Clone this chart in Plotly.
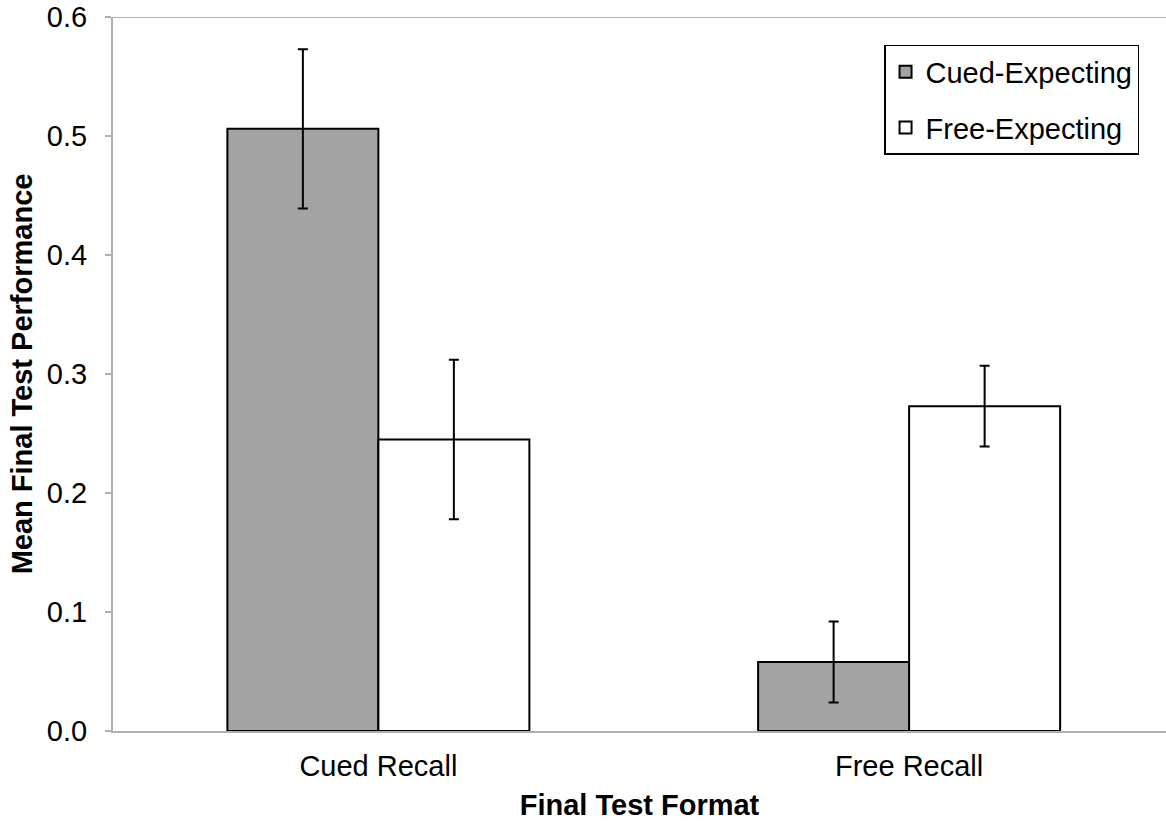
import plotly.graph_objects as go

categories = ["Cued Recall", "Free Recall"]
cued_expecting = [0.506, 0.058]
cued_expecting_err = [0.067, 0.034]
free_expecting = [0.245, 0.273]
free_expecting_err = [0.067, 0.034]
y_ticks = [0.0, 0.1, 0.2, 0.3, 0.4, 0.5, 0.6]
y_tick_labels = ["0.0", "0.1", "0.2", "0.3", "0.4", "0.5", "0.6"]

font_family = "Liberation Sans, Arial, Helvetica, sans-serif"

fig = go.Figure()
fig.add_trace(go.Bar(
    name="Cued-Expecting", x=categories, y=cued_expecting, legendgroup="a",
    marker=dict(color="#A3A3A3", line=dict(color="black", width=2)),
    error_y=dict(type="data", array=cued_expecting_err, color="black", thickness=2, width=5),
))
fig.add_trace(go.Bar(
    name="Free-Expecting", x=categories, y=free_expecting, legendgroup="b",
    marker=dict(color="white", line=dict(color="black", width=2)),
    error_y=dict(type="data", array=free_expecting_err, color="black", thickness=2, width=5),
))

fig.add_shape(type="line", xref="paper", yref="y", x0=0, x1=1, y0=0.6, y1=0.6,
              line=dict(color="#B0B0B0", width=2))

fig.update_layout(
    width=1166, height=822,
    margin=dict(l=113, r=0, t=17, b=91),
    plot_bgcolor="white", paper_bgcolor="white",
    barmode="group", bargap=0.431, bargroupgap=0,
    font=dict(family=font_family, color="black", size=29),
    showlegend=True,
    legend=dict(
        x=0.9744, y=0.961, xanchor="right", yanchor="top",
        bordercolor="black", borderwidth=1.5, bgcolor="white",
        font=dict(size=29, family=font_family), tracegroupgap=15,
        itemwidth=30,
    ),
)
fig.update_xaxes(
    range=[-0.5, 1.484],
    showline=True, linecolor="#B0B0B0", linewidth=2,
    ticks="", tickfont=dict(size=29), ticklabelstandoff=8,
    title=dict(text="<b>Final Test Format</b>", font=dict(size=29), standoff=14),
)
fig.update_yaxes(
    range=[0, 0.6], tickvals=y_ticks, ticktext=y_tick_labels,
    showline=True, linecolor="#B0B0B0", linewidth=2,
    ticks="outside", ticklen=6, tickcolor="#B0B0B0", tickwidth=2,
    showgrid=False, zeroline=False, tickfont=dict(size=29), ticklabelstandoff=12,
    ticklabeloverflow="allow",
    title=dict(text="<b>Mean Final Test Performance</b>", font=dict(size=29), standoff=6),
)

fig.write_html("out.html", config={"displayModeBar": False},
               post_script="document.body.style.margin='0';document.body.style.padding='0';")
